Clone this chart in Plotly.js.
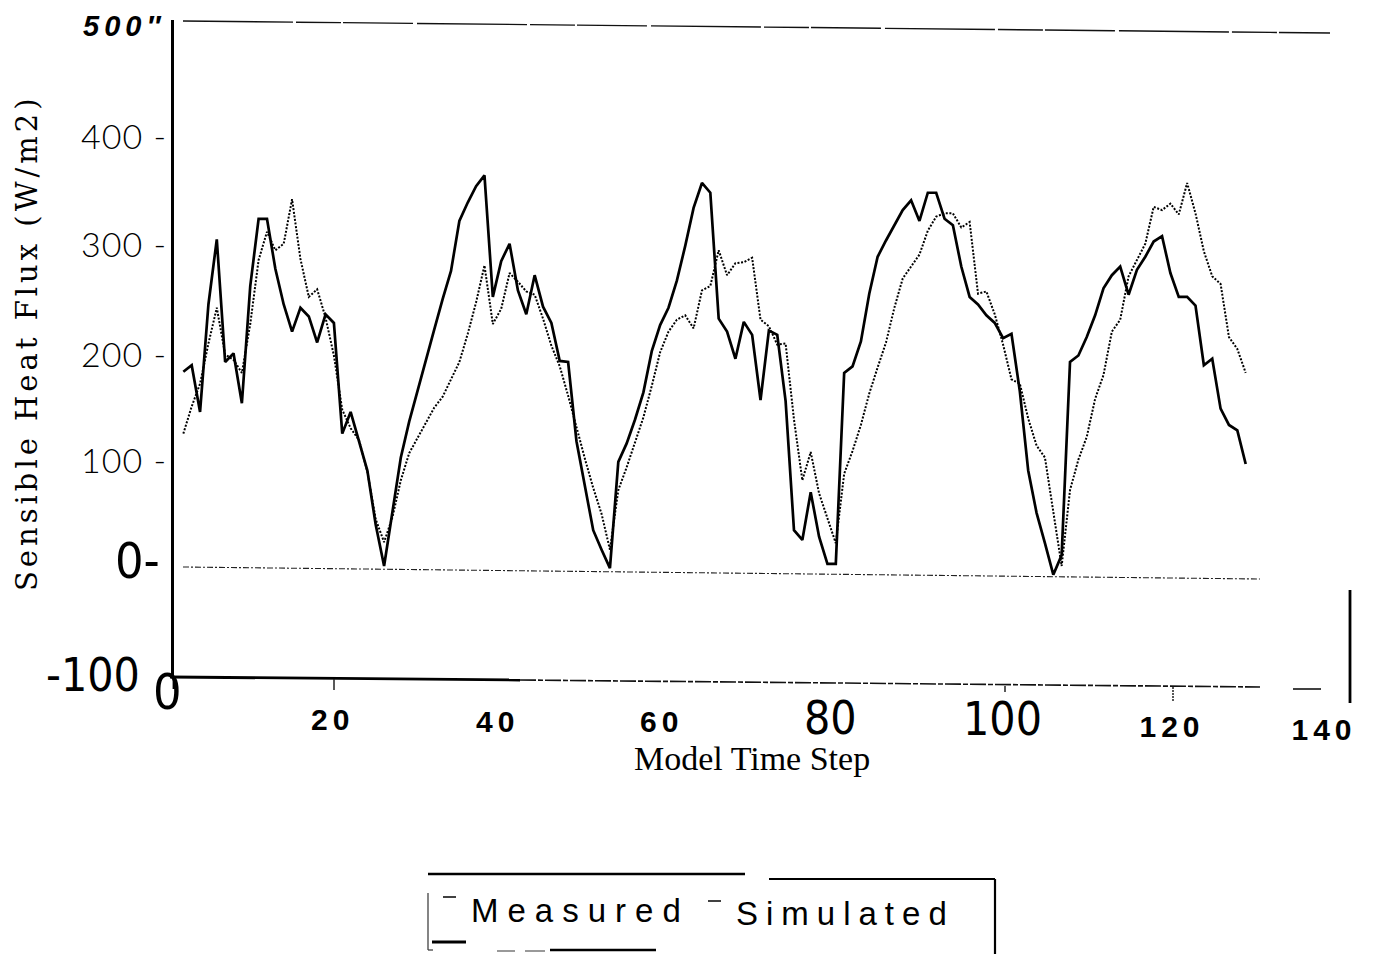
<!DOCTYPE html>
<html>
<head>
<meta charset="utf-8">
<script src="https://cdn.plot.ly/plotly-3.0.1.min.js"></script>
<style>
html,body{margin:0;padding:0;background:#ffffff;}
#chart{width:1390px;height:954px;}
</style>
</head>
<body>
<div id="chart"></div>
<script>
// ---------------- data ----------------
const timeSteps = [2,3,4,5,6,7,8,9,10,11,12,13,14,15,16,17,18,19,20,21,22,23,24,25,26,27,28,29,30,31,32,33,34,35,36,37,38,39,40,41,42,43,44,45,46,47,48,49,50,51,52,53,54,55,56,57,58,59,60,61,62,63,64,65,66,67,68,69,70,71,72,73,74,75,76,77,78,79,80,81,82,83,84,85,86,87,88,89,90,91,92,93,94,95,96,97,98,99,100,101,102,103,104,105,106,107,108,109,110,111,112,113,114,115,116,117,118,119,120,121,122,123,124,125,126,127,128,129];

const measured = [179,185,142,241,301,188,196,150,258,320,
  320,274,241,216,238,230,206,232,224,122,
  142,115,88,38,0,50,100,133,162,189,
  218,246,272,318,335,350,360,248,281,297,
  254,232,268,239,224,189,188,115,74,33,
  15,-2,96,113,135,160,198,222,238,263,
  295,330,353,344,228,216,191,225,213,153,
  217,213,152,33,24,68,27,2,2,178,
  184,207,251,285,300,314,328,337,318,344,
  344,320,314,276,248,241,231,224,210,214,
  161,88,49,21,-8,10,188,194,211,231,
  256,268,276,250,273,285,299,304,270,248,
  248,240,185,191,145,130,125,94];

const simulated = [122,147,168,205,238,195,190,178,223,282,
  308,291,297,338,283,248,255,229,194,144,
  127,116,87,43,22,45,79,104,118,132,
  146,156,172,188,214,243,277,223,237,270,
  262,253,250,228,203,184,157,127,99,72,
  48,15,70,91,114,137,166,197,216,227,
  231,219,254,258,291,268,279,280,284,227,
  221,204,205,135,79,105,67,45,21,85,
  106,130,159,183,206,238,265,276,287,309,
  322,325,325,312,317,251,253,232,204,172,
  168,136,111,100,52,0,70,98,119,154,
  176,216,227,267,282,297,331,328,334,324,
  353,325,290,267,260,211,200,178];

const seriesNames = ['Measured', 'Simulated'];
const xTickVals = [0, 20, 40, 60, 80, 100, 120, 140];
const xTickText = ['0', '20', '40', '60', '80', '100', '120', '140'];
const yTickVals = [500, 400, 300, 200, 100, 0, -100];
const yTickText = ['500\u2033', '400 -', '300 -', '200 -', '100 -', '0-', '-100'];
const xTitle = 'Model Time Step';
const yTitle = 'Sensible Heat Flux (W/m2)';

// ---------------- geometry helpers (page pixels -> paper) ----------------
const L = 174, R = 40, T = 20, B = 277, WIDTH = 1390, HEIGHT = 954;
const PW = WIDTH - L - R, PH = HEIGHT - T - B;
function px(x) { return (x - L) / PW; }
function py(y) { return (HEIGHT - B - y) / PH; }

// ---------------- styles ----------------
const narrow = 'Liberation Sans Narrow, DejaVu Sans Condensed, Roboto Condensed, Arial Narrow, sans-serif';
const light = {family: 'Lato, Roboto, sans-serif', size: 34, color: '#000', weight: 300};
const boldSp = {family: 'Liberation Sans, Arial, sans-serif', size: 30, color: '#000', weight: 'bold'};
const yLabelStyle = [
  {font: {family: 'Liberation Sans, Arial, sans-serif', size: 29, color: '#000', weight: 'bold', style: 'italic'}, right: 168, cy: 26, sp: 5},
  {font: light, right: 169, cy: 135, sp: 1},
  {font: light, right: 169, cy: 243, sp: 1},
  {font: light, right: 169, cy: 353, sp: 1},
  {font: light, right: 169, cy: 459, sp: 1},
  {font: {family: narrow, size: 50, color: '#000', weight: 300}, right: 162, cy: 561, sp: 0},
  {font: {family: narrow, size: 46, color: '#000', weight: 300}, right: 142, cy: 675, sp: 0}
];
const xLabelStyle = [
  {font: {family: narrow, size: 50, color: '#000', weight: 300}, cx: 167, cy: 692, sp: 0},
  {font: boldSp, cx: 332, cy: 719, sp: 5},
  {font: boldSp, cx: 498, cy: 721, sp: 5},
  {font: boldSp, cx: 661, cy: 721, sp: 5},
  {font: {family: narrow, size: 46, color: '#000', weight: 300}, cx: 830, cy: 718, sp: 0},
  {font: {family: narrow, size: 46, color: '#000', weight: 300}, cx: 1002, cy: 719, sp: 0},
  {font: boldSp, cx: 1172, cy: 726, sp: 5},
  {font: boldSp, cx: 1324, cy: 729, sp: 5}
];

// ---------------- traces ----------------
const traces = [
  {x: timeSteps, y: measured, name: seriesNames[0], type: 'scatter', mode: 'lines',
   line: {color: '#000', width: 2.7}},
  {x: timeSteps, y: simulated, name: seriesNames[1], type: 'scatter', mode: 'lines',
   line: {color: '#000', width: 2, dash: '2px,1.6px'}}
];

// ---------------- annotations ----------------
const annotations = [];
const spacing = [];
function addAnn(a, sp) { annotations.push(a); spacing.push(sp || 0); }

yTickVals.forEach((v, i) => {
  const s = yLabelStyle[i];
  addAnn({text: yTickText[i], xref: 'paper', yref: 'paper', x: px(s.right), y: py(s.cy),
    xanchor: 'right', yanchor: 'middle', align: 'right', showarrow: false, font: s.font}, s.sp);
});
xTickVals.forEach((v, i) => {
  const s = xLabelStyle[i];
  addAnn({text: xTickText[i], xref: 'paper', yref: 'paper', x: px(s.cx), y: py(s.cy),
    xanchor: 'center', yanchor: 'middle', align: 'center', showarrow: false, font: s.font}, s.sp);
});
addAnn({text: xTitle, xref: 'paper', yref: 'paper', x: px(752), y: py(758), xanchor: 'center', yanchor: 'middle',
  showarrow: false, font: {family: 'Liberation Serif, Times New Roman, serif', size: 34, color: '#000'}}, 0);
addAnn({text: yTitle, xref: 'paper', yref: 'paper', x: px(27), y: py(343), xanchor: 'center', yanchor: 'middle',
  textangle: -90, showarrow: false, font: {family: 'DejaVu Serif, serif', size: 29, color: '#000'}}, 4);
// legend texts
addAnn({text: seriesNames[0], xref: 'paper', yref: 'paper', x: px(469), y: py(910), xanchor: 'left', yanchor: 'middle',
  align: 'left', showarrow: false, font: {family: 'Liberation Sans, Arial, sans-serif', size: 33, color: '#000'}}, 9);
addAnn({text: seriesNames[1], xref: 'paper', yref: 'paper', x: px(734), y: py(913), xanchor: 'left', yanchor: 'middle',
  align: 'left', showarrow: false, font: {family: 'Liberation Sans, Arial, sans-serif', size: 33, color: '#000'}}, 8);

// ---------------- decorative / axis shapes ----------------
function seg(x0, y0, x1, y1, w, col, dash) {
  return {type: 'line', xref: 'paper', yref: 'paper', x0: px(x0), y0: py(y0), x1: px(x1), y1: py(y1),
    line: {color: col || '#000', width: w, dash: dash || 'solid'}};
}
const shapes = [
  seg(183, 21, 1330, 33, 1.4, '#111', '110px,3px,45px,2px,70px,4px'),   // upper reference line
  seg(183, 567, 1260, 579, 1.1, '#222', '6px,2px,2px,2px'),             // zero line
  seg(170, 677, 520, 680, 2.8, '#000'),                                 // x axis (solid part)
  seg(520, 680, 1260, 687, 1.6, '#111', '16px,2px,5px,2px'),            // x axis (faint part)
  seg(1293, 689, 1321, 689, 1.6, '#111'),
  seg(174, 676, 174, 689, 2.8, '#000'),
  seg(1350, 590, 1350, 703, 2.8, '#000'),                               // right fragment
  seg(334, 679, 334, 690, 1.5, '#222'),
  seg(1005, 686, 1005, 692, 1.5, '#222'),
  seg(1173, 687, 1173, 701, 1.5, '#222', '2px,1px'),
  // legend frame
  seg(428, 874, 745, 874, 2.6, '#000'),
  seg(769, 879, 995, 879, 2.2, '#000'),
  seg(995, 879, 995, 954, 2.2, '#000'),
  seg(428, 893, 428, 950, 1.2, '#333'),
  seg(428, 950, 433, 950, 1.2, '#333'),
  seg(443, 897, 456, 897, 1.6, '#111'),
  seg(708, 901, 721, 901, 1.6, '#111'),
  seg(432, 942, 466, 942, 3, '#000'),
  seg(497, 951, 515, 951, 2, '#999'),
  seg(525, 951, 545, 951, 2, '#999'),
  seg(550, 950, 656, 950, 2.6, '#000')
];

const layout = {
  width: WIDTH, height: HEIGHT,
  margin: {l: L, r: R, t: T, b: B, pad: 0},
  paper_bgcolor: '#ffffff', plot_bgcolor: 'rgba(0,0,0,0)',
  showlegend: false,
  xaxis: {range: [0.885, 141.47], showgrid: false, zeroline: false, showline: false,
    showticklabels: false, ticks: '', fixedrange: true},
  yaxis: {range: [-102.3, 503.2], showgrid: false, zeroline: false, showline: true, linecolor: '#000',
    linewidth: 2.8, showticklabels: false, ticks: '', fixedrange: true},
  annotations: annotations,
  shapes: shapes
};

Plotly.newPlot('chart', traces, layout, {staticPlot: true, displayModeBar: false, responsive: false}).then(() => {
  document.querySelectorAll('#chart g.annotation').forEach(g => {
    const i = +g.getAttribute('data-index');
    const sp = spacing[i];
    if (sp) {
      const t = g.querySelector('text');
      if (t) t.style.letterSpacing = sp + 'px';
    }
  });
});
</script>
</body>
</html>
